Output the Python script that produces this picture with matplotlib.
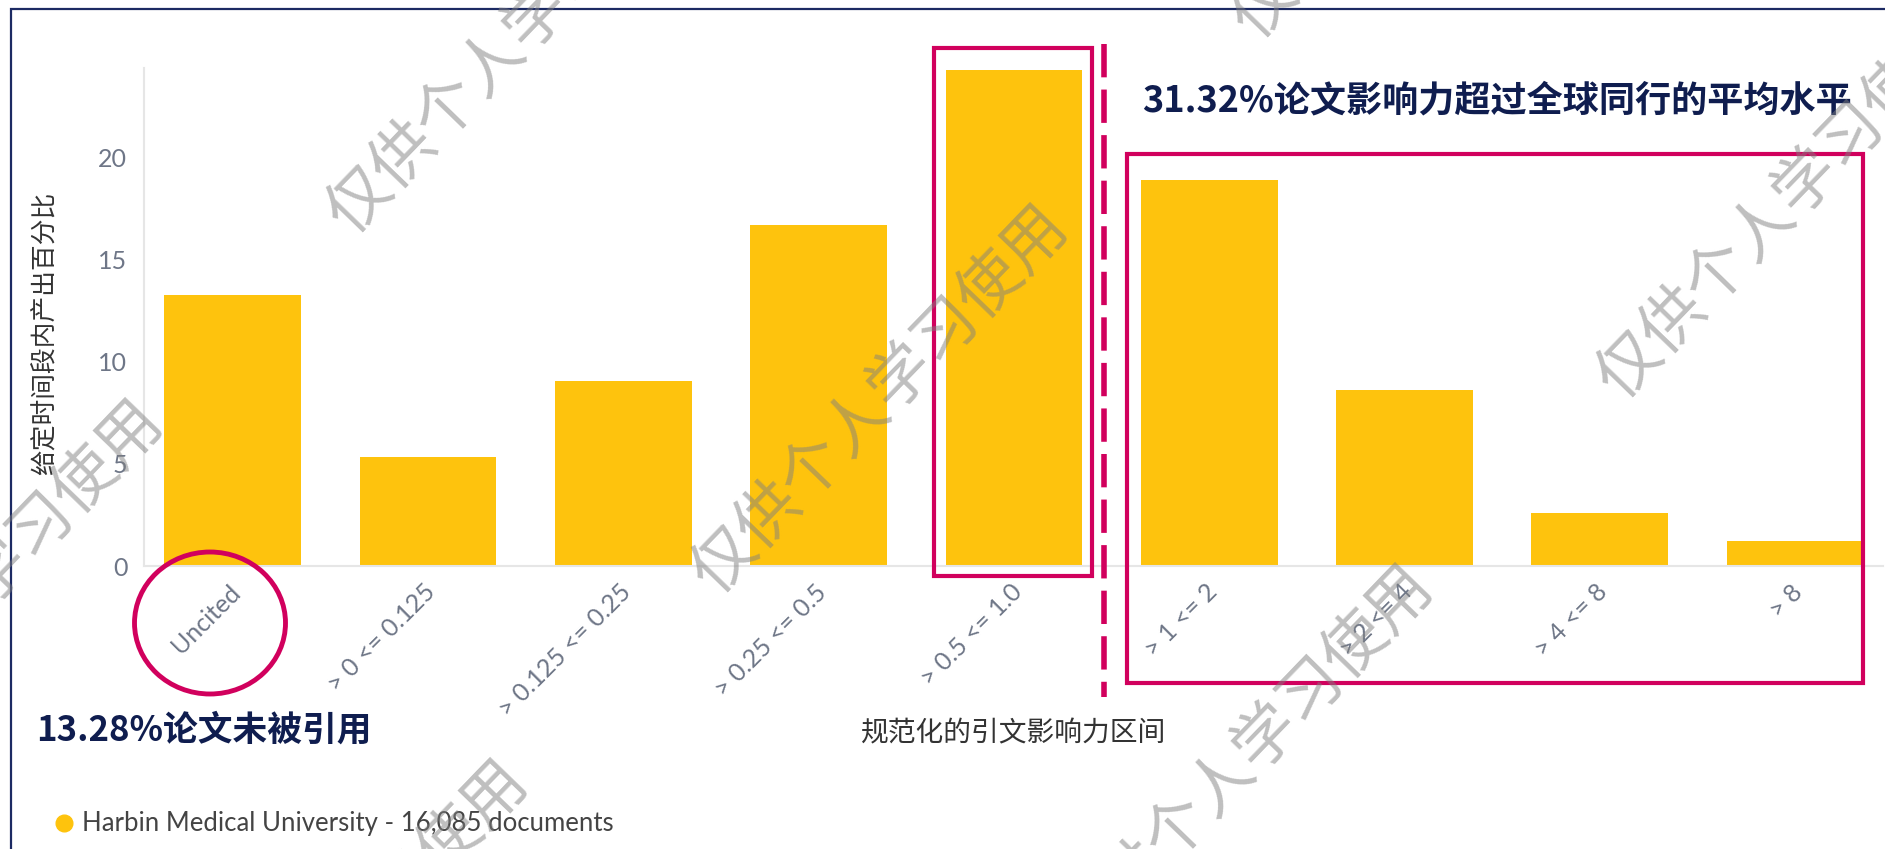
import numpy as np
import matplotlib
matplotlib.use("Agg")
import matplotlib.pyplot as plt
from matplotlib.patches import Rectangle, Ellipse
from matplotlib.lines import Line2D
from matplotlib.transforms import ScaledTranslation

W, H = 1885, 849
DPI = 100

categories = ["Uncited", "> 0 <= 0.125", "> 0.125 <= 0.25", "> 0.25 <= 0.5",
              "> 0.5 <= 1.0", "> 1 <= 2", "> 2 <= 4", "> 4 <= 8", "> 8"]
share = [13.28, 5.35, 9.06, 16.7, 24.3, 18.9, 8.6, 2.6, 1.22]
y_ticks = [0, 5, 10, 15, 20]
legend_label = "Harbin Medical University - 16,085 documents"
uncited_note = "13.28%论文未被引用"
above_note = "31.32%论文影响力超过全球同行的平均水平"
x_title = "规范化的引文影响力区间"
y_title = "给定时间段内产出百分比"
watermark = "仅供个人学习使用"

BAR = "#fec30d"
CRIMSON = "#d1005d"
NAVY = "#0f1d4f"
TICK = "#6e7687"

plt.rcParams['font.family'] = ['Lato', 'Noto Sans CJK SC', 'DejaVu Sans']
CJK = ['Noto Sans CJK SC', 'DejaVu Sans']


def fx(x):
    return x / W


def fy(y):
    return 1 - y / H


fig = plt.figure(figsize=(W / DPI, H / DPI), dpi=DPI)
ax = fig.add_axes([fx(144), fy(566), fx(1883) - fx(144), fy(68) - fy(566)])

xs = np.arange(len(categories))
ax.bar(xs, share, width=0.7, color=BAR, zorder=2)
ax.set_xlim(-0.454, 8.45)
ax.set_ylim(0, 24.4)
ax.set_yticks(y_ticks)
ax.set_yticklabels([str(t) for t in y_ticks], fontsize=18, color=TICK)
ax.tick_params(axis="y", length=0, pad=12)
ax.tick_params(axis="x", length=0, pad=6)
ax.set_xticks(xs)
labels = ax.set_xticklabels(categories, rotation=45, ha="right", va="center",
                            rotation_mode="anchor", fontsize=18, color=TICK)
shift = ScaledTranslation(4 / DPI, -14 / DPI, fig.dpi_scale_trans)
for lab in labels:
    lab.set_transform(lab.get_transform() + shift)

for side in ["top", "right"]:
    ax.spines[side].set_visible(False)
for side in ["left", "bottom"]:
    ax.spines[side].set_color("#e6e6e6")
    ax.spines[side].set_linewidth(1.5)

fig.text(fx(46), fy(333), y_title, rotation=90, ha="center", va="center",
         fontsize=18.5, color="#333333", family=CJK)
fig.text(fx(1013), fy(733), x_title, ha="center", va="center",
         fontsize=20, color="#333333", family=CJK)

# outer frame
fig.patches.append(Rectangle((fx(11), fy(900)), fx(1900), fy(9) - fy(900),
                             transform=fig.transFigure, fill=False,
                             edgecolor="#1c2a63", linewidth=1.6))

# highlight shapes
def box(x0, y0, x1, y1):
    fig.patches.append(Rectangle((fx(x0), fy(y1)), fx(x1) - fx(x0), fy(y0) - fy(y1),
                                 transform=fig.transFigure, fill=False,
                                 edgecolor=CRIMSON, linewidth=3, zorder=5))


box(934, 48, 1092, 576)
box(1127, 154, 1863, 683)
fig.patches.append(Ellipse((fx(210), fy(623)), fx(151), 142 / H,
                           transform=fig.transFigure, fill=False,
                           edgecolor=CRIMSON, linewidth=3.5, zorder=5))
fig.lines.append(Line2D([fx(1104), fx(1104)], [fy(44), fy(697)],
                        transform=fig.transFigure, color=CRIMSON,
                        linewidth=4, dashes=(6, 2.2)))

fig.text(fx(1142), fy(101), above_note, ha="left", va="center", fontsize=26,
         fontweight="heavy", color=NAVY, family=CJK)
fig.text(fx(36), fy(730), uncited_note, ha="left", va="center", fontsize=25,
         fontweight="heavy", color=NAVY, family=CJK)

fig.legend(handles=[Line2D([], [], marker="o", color=BAR, linestyle="",
                           markersize=12)],
           labels=[legend_label], loc="center left",
           bbox_to_anchor=(fx(56), fy(824)), frameon=False, fontsize=18.5,
           handlelength=0.6, handletextpad=0.4, borderaxespad=0,
           borderpad=0, labelcolor="#444444")

# diagonal watermark tiles
va_ = np.array([905, -195])
vb_ = np.array([365, 360])
origin = np.array([880, 400])
for i in range(-3, 4):
    for j in range(-3, 4):
        cx, cy = origin + i * va_ + j * vb_
        if -400 < cx < W + 400 and -400 < cy < H + 400:
            fig.text(fx(cx), fy(cy), watermark, rotation=46, ha="center",
                     va="center", rotation_mode="anchor", fontsize=46,
                     color="#808080", alpha=0.5, family=CJK,
                     fontweight="light", zorder=10)

fig.savefig("out.png", dpi=DPI)
